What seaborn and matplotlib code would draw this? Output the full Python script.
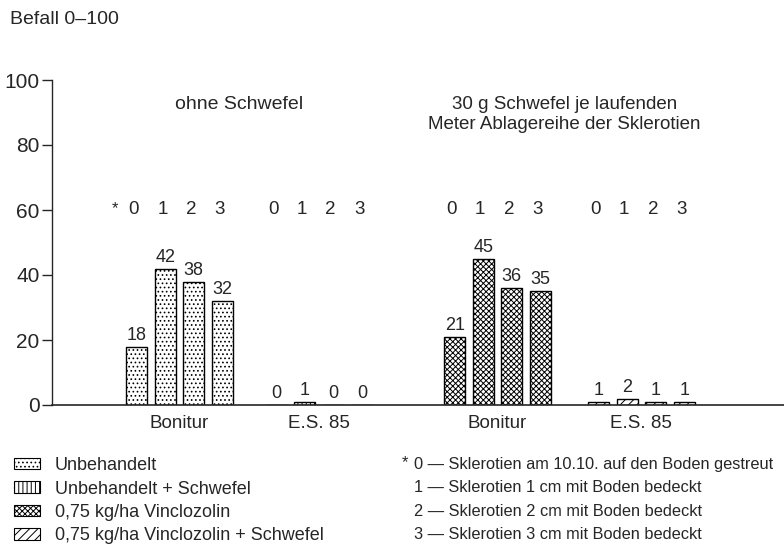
import numpy as np
import pandas as pd
import matplotlib
matplotlib.use('Agg')
import matplotlib.pyplot as plt
from matplotlib.patches import Patch
import seaborn as sns

# values (Befall 0-100)
stufen = ['0', '1', '2', '3']
bonitur_ohne = [18, 42, 38, 32]
es85_ohne = [0, 1, 0, 0]
bonitur_mit = [21, 45, 36, 35]
es85_mit = [1, 2, 1, 1]

gruppen = ['Bonitur', 'E.S. 85', 'Bonitur', 'E.S. 85']
behandlung = ['Unbehandelt', 'Unbehandelt + Schwefel',
              '0,75 kg/ha Vinclozolin', '0,75 kg/ha Vinclozolin + Schwefel']
hatches = ['....', '||||', 'xxxxxx', '////']
gruppen_mitte = [0.0, 4.9, 11.15, 16.2]

erklaerung = ['0 \u2014 Sklerotien am 10.10. auf den Boden gestreut',
              '1 \u2014 Sklerotien 1 cm mit Boden bedeckt',
              '2 \u2014 Sklerotien 2 cm mit Boden bedeckt',
              '3 \u2014 Sklerotien 3 cm mit Boden bedeckt']

werte = [bonitur_ohne, es85_ohne, bonitur_mit, es85_mit]
rows = []
for g, (mitte, vals) in enumerate(zip(gruppen_mitte, werte)):
    for i, v in enumerate(vals):
        rows.append({'gruppe': g, 'pos': mitte + i - 1.5, 'befall': v})
df = pd.DataFrame(rows)

sns.set_style('white')
plt.rcParams['font.family'] = ['Liberation Sans', 'DejaVu Sans']
plt.rcParams['hatch.linewidth'] = 0.7

fig = plt.figure(figsize=(7.84, 5.55), dpi=100)
ax = fig.add_axes([52 / 784, 1 - 405 / 555, 732 / 784, 325 / 555])

for g in range(4):
    sub = df[df['gruppe'] == g]
    sns.barplot(data=sub, x='pos', y='befall', native_scale=True, width=0.74,
                color='white', edgecolor='black', linewidth=1.0,
                errorbar=None, ax=ax)
    cont = ax.containers[-1]
    for p in cont:
        p.set_hatch(hatches[g])
        p.set_facecolor('white')
    ax.bar_label(cont, labels=[str(v) for v in sub['befall']], padding=2, fontsize=13)
    # stage numbers above each group
    for x, s in zip(sub['pos'], stufen):
        ax.text(x - 0.1, 60, s, ha='center', va='center', fontsize=13.5)

ax.text(gruppen_mitte[0] - 2.25, 60.5, '*', ha='center', va='center', fontsize=12)

ax.set_xlim(-4.47, 21.2)
ax.set_ylim(0, 100)
ax.set_yticks([0, 20, 40, 60, 80, 100])
ax.set_xticks(gruppen_mitte)
ax.set_xticklabels(gruppen, fontsize=13.5)
ax.tick_params(axis='x', length=0, pad=7)
ax.tick_params(axis='y', direction='out', length=7, width=1, labelsize=15, left=True, pad=2)
ax.set_xlabel('')
ax.set_ylabel('')
for s in ['top', 'right']:
    ax.spines[s].set_visible(False)
ax.spines['left'].set_linewidth(1.0)
ax.spines['bottom'].set_linewidth(1.2)

ax.text(2.1, 92.5, 'ohne Schwefel', ha='center', va='center', fontsize=14)
ax.text(13.5, 89.3, '30 g Schwefel je laufenden\nMeter Ablagereihe der Sklerotien',
        ha='center', va='center', fontsize=13.5, linespacing=1.2)

fig.text(10 / 784, 1 - 20 / 555, 'Befall 0\u2013100', ha='left', va='center', fontsize=14)

handles = [Patch(facecolor='white', edgecolor='black', hatch=h, linewidth=0.8) for h in hatches]
fig.legend(handles, behandlung, loc='upper left', bbox_to_anchor=(14 / 784, 1 - 457 / 555),
           frameon=False, fontsize=13, handlelength=1.45, handleheight=0.6,
           labelspacing=0.36, handletextpad=0.8, borderaxespad=0, borderpad=0)

fig.text(405 / 784, 1 - 463 / 555, '*', ha='center', va='center', fontsize=12)
for k, line in enumerate(erklaerung):
    fig.text(414 / 784, 1 - (464 + k * 23.5) / 555, line, ha='left', va='center', fontsize=11.8)

fig.savefig('out.png', dpi=100)
